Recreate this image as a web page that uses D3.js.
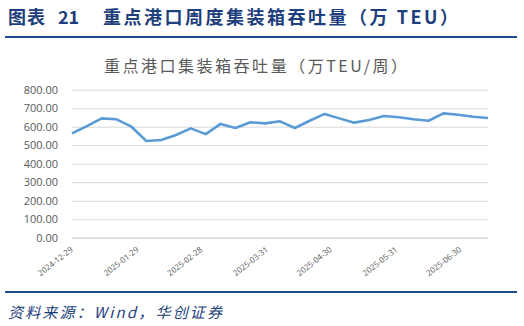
<!DOCTYPE html>
<meta charset="utf-8" />
<script src="https://d3js.org/d3.v7.min.js"></script>
<style>
  body { margin: 0; background: #fff; }
  svg { display: block; }
</style>
<body>
  <svg id="chart" width="524" height="326"></svg>
  <script>
    // weekly throughput, 万TEU/周
    const startDate = "2024-12-29";
    const values = [
      564, 603, 645, 640, 600, 523, 528, 555, 591, 560,
      615, 593, 624, 618, 629, 593, 632, 669, 645, 622,
      636, 658, 651, 640, 632, 672, 665, 654, 647,
    ];
    const xTicks = [
      "2024-12-29", "2025-01-29", "2025-02-28", "2025-03-31",
      "2025-04-30", "2025-05-31", "2025-06-30",
    ];
    const yTicks = [0, 100, 200, 300, 400, 500, 600, 700, 800];

    const parse = d3.timeParse("%Y-%m-%d");
    const t0 = parse(startDate);
    const data = values.map((v, i) => ({ date: d3.timeDay.offset(t0, i * 7), value: v }));

    const svg = d3.select("#chart");
    const navy = "#1d3f7d";
    const grey = "#595959";
    const cjk = "Noto Sans CJK SC";

    // header
    const head = svg.append("g")
      .attr("font-family", cjk)
      .attr("font-weight", 700)
      .attr("font-size", 18)
      .attr("fill", navy);
    head.append("text").attr("x", 8).attr("y", 24)
      .attr("textLength", 37).attr("lengthAdjust", "spacing").text("图表");
    head.append("text").attr("x", 58).attr("y", 24).text("21");
    head.append("text").attr("x", 103).attr("y", 24)
      .attr("textLength", 355).attr("lengthAdjust", "spacing")
      .text("重点港口周度集装箱吞吐量（万 TEU）");

    svg.append("rect").attr("x", 5).attr("y", 36).attr("width", 512).attr("height", 2).attr("fill", "#1f4b8a");
    svg.append("rect").attr("x", 5).attr("y", 291).attr("width", 512).attr("height", 2).attr("fill", "#1f4b8a");

    svg.append("text")
      .attr("x", 8).attr("y", 318)
      .attr("font-family", cjk)
      .attr("font-style", "italic")
      .attr("font-size", 15)
      .attr("textLength", 214).attr("lengthAdjust", "spacing")
      .attr("fill", navy)
      .text("资料来源：Wind，华创证券");

    // chart title
    svg.append("text")
      .attr("x", 104).attr("y", 72)
      .attr("font-family", cjk)
      .attr("font-size", 16)
      .attr("textLength", 303).attr("lengthAdjust", "spacing")
      .attr("fill", grey)
      .text("重点港口集装箱吞吐量（万TEU/周）");

    const x = d3.scaleTime()
      .domain([t0, data[data.length - 1].date])
      .range([72, 488]);
    const y = d3.scaleLinear().domain([0, 800]).range([237.7, 89.7]);

    // gridlines + y labels
    const yAxis = svg.append("g")
      .attr("transform", "translate(72,0)")
      .call(d3.axisLeft(y).tickValues(yTicks).tickSize(-416).tickFormat(d3.format(".2f")).tickPadding(14));
    yAxis.select(".domain").remove();
    yAxis.selectAll(".tick line").attr("stroke", "#d9d9d9").attr("stroke-width", 1);
    yAxis.selectAll(".tick text")
      .attr("fill", grey)
      .attr("font-family", "Open Sans, Noto Sans, sans-serif")
      .attr("font-size", 11);

    // x labels
    const xAxis = svg.append("g")
      .attr("transform", `translate(0,${y(0)})`)
      .call(d3.axisBottom(x).tickValues(xTicks.map(parse)).tickSize(0).tickFormat(d3.timeFormat("%Y-%m-%d")));
    xAxis.select(".domain").attr("stroke", "#d9d9d9").attr("stroke-width", 1.5);
    xAxis.selectAll(".tick text")
      .attr("fill", grey)
      .attr("font-family", "Open Sans, Noto Sans, sans-serif")
      .attr("font-size", 8)
      .attr("text-anchor", "end")
      .attr("dy", 0)
      .attr("y", 0)
      .attr("transform", "translate(1,13) rotate(-38)");

    // line
    svg.append("path")
      .datum(data)
      .attr("fill", "none")
      .attr("stroke", "#5b9bd5")
      .attr("stroke-width", 2.6)
      .attr("stroke-linejoin", "round")
      .attr("d", d3.line().x(d => x(d.date)).y(d => y(d.value)));
  </script>
</body>
